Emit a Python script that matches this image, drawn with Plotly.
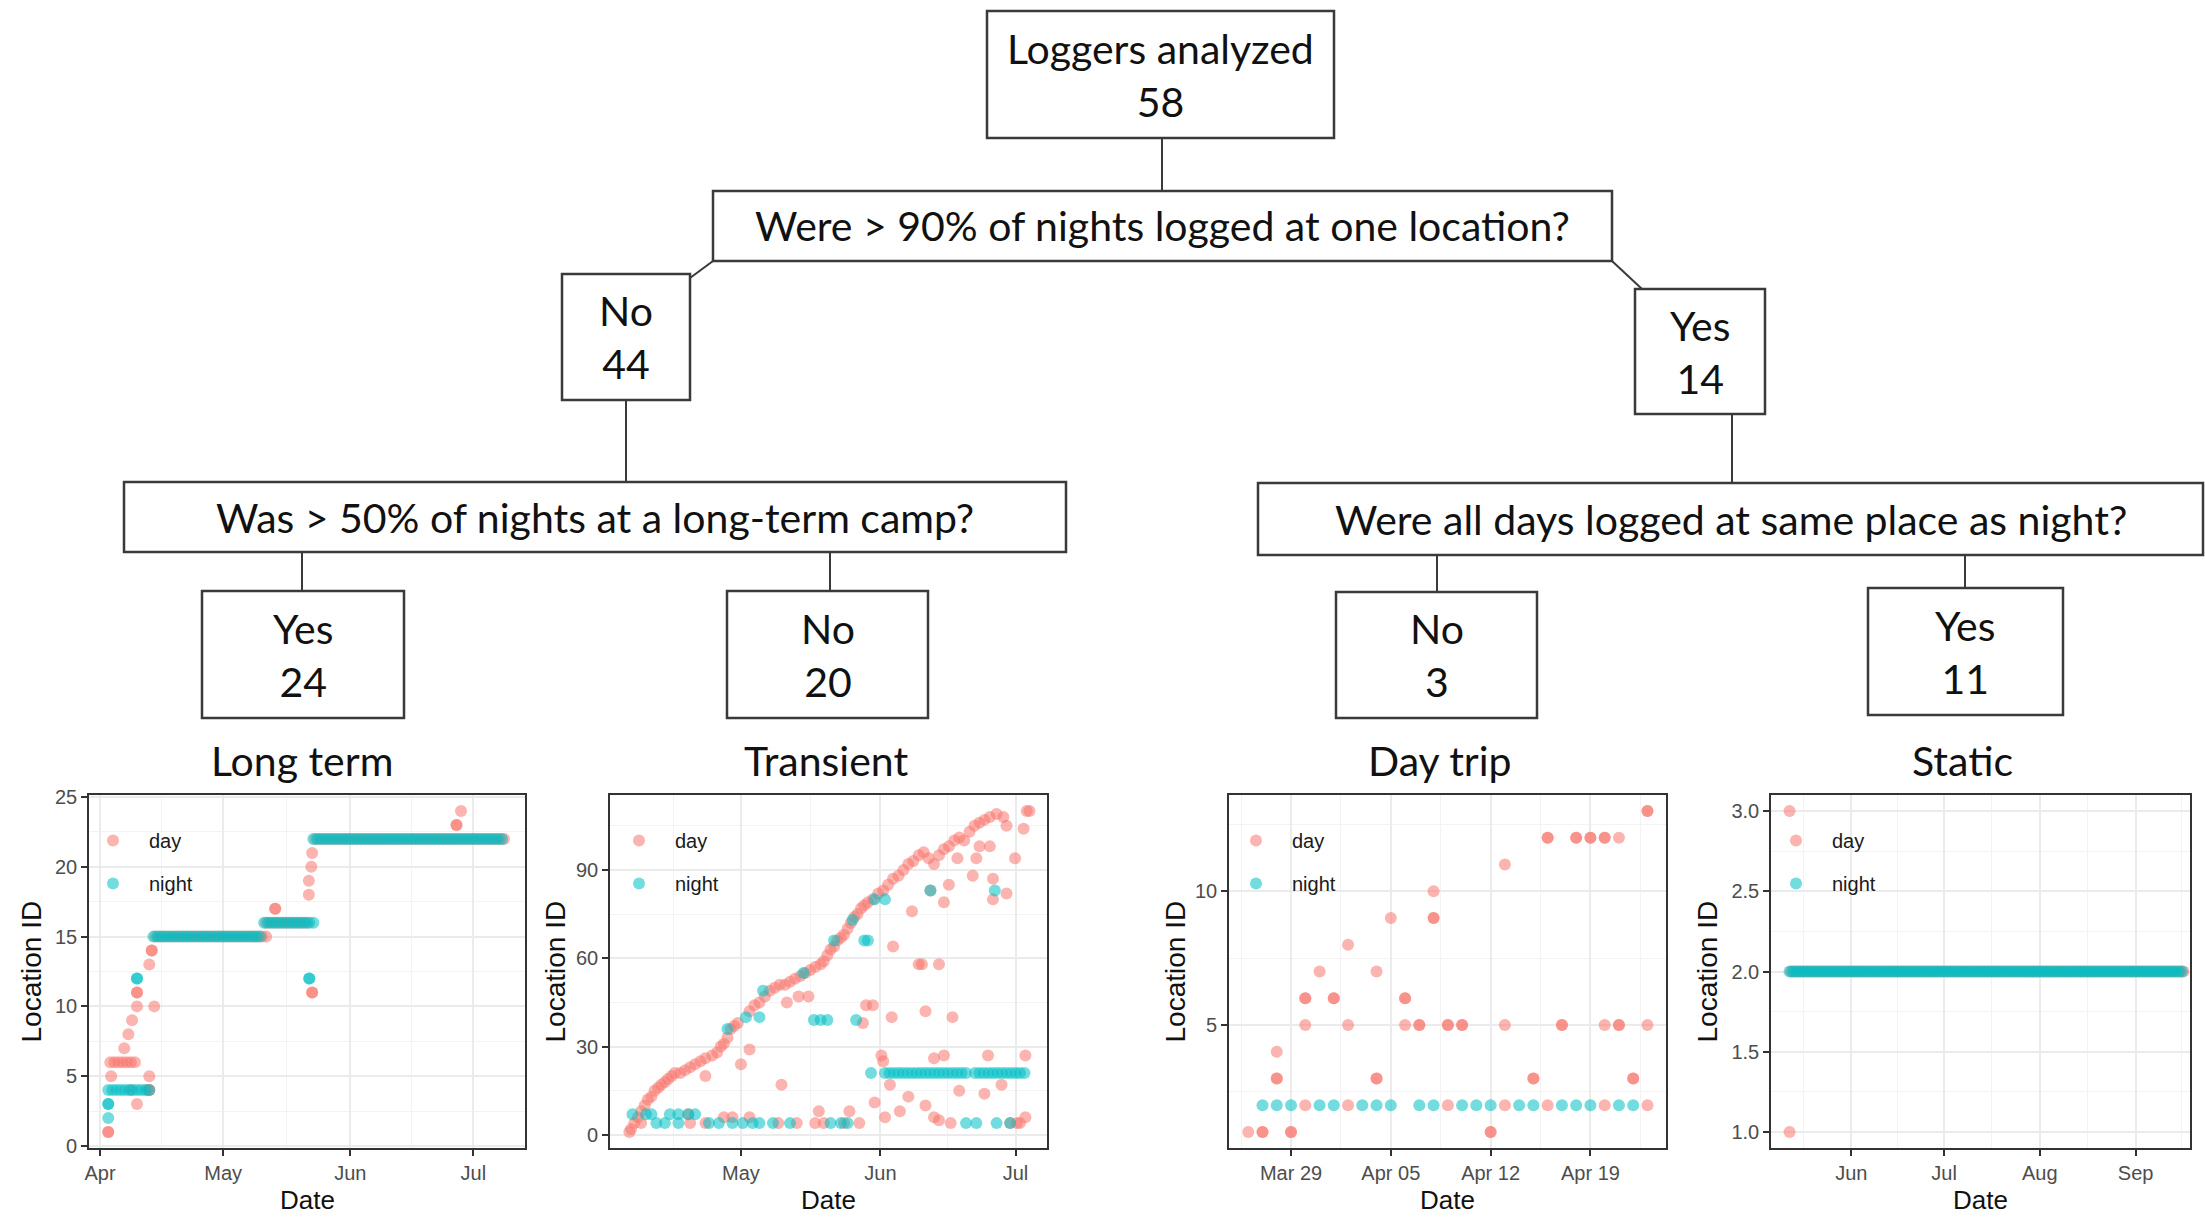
import numpy as np
import pandas as pd
import plotly.graph_objects as go

W, H = 2205, 1217
DAY_C = "#F8766D"
NIGHT_C = "#00BFC4"

# ---------------- data ----------------
# Panel 1: Long term (day offsets from 2019-04-01; day fixes at noon)
lt_base = "2019-04-01"
lt_night_runs = [(2, 12, 4), (13, 39, 15), (40, 52, 16), (52, 98, 22)]
lt_night_d = [2, 2, 2, 9, 9, 51, 51]
lt_night_v = [3, 3, 2, 12, 12, 12, 12]
lt_day_runs = [(2, 8, 6), (13, 40, 15), (40, 50, 16), (52, 98, 22)]
lt_day_d = [2, 2, 2.7, 5.9, 6.9, 7.8, 9, 9, 9, 9, 7.5, 12, 12, 12.6, 12.6, 13.2, 12, 12, 11.5,
            42.7, 42.7, 50.9, 50.9, 51.5, 51.7, 51.7, 51.7, 86.9, 86.9, 88]
lt_day_v = [1, 1, 5, 7, 8, 9, 10, 11, 11, 3, 4, 5, 13, 14, 14, 10, 4, 4, 4,
            17, 17, 18, 19, 20, 21, 11, 11, 23, 23, 24]

# Panel 2: Transient (day offsets from 2019-04-01)
tr_base = "2019-04-01"
tr_day_d = [5.2, 5.6, 6.3, 7.1, 7.8, 8.6, 9.3, 10.1, 10.8, 11.6, 12.3, 13.1, 13.8, 14.6, 15.3, 16.5,
            17.6, 18.7, 19.8, 21.0, 22.1, 23.6, 24.7, 25.5, 26.2, 27.0, 27.7, 28.5, 29.3, 31.9, 33.0,
            34.1, 35.3, 36.4, 37.5, 38.6, 39.8, 40.9, 42.0, 43.2, 44.3, 45.4, 46.5, 47.7, 48.4, 49.2,
            49.9, 50.7, 51.4, 52.2, 52.9, 53.7, 54.4, 55.2, 55.9, 56.7, 57.4, 58.2, 59.3, 60.5, 61.6,
            62.7, 63.8, 65.0, 66.1, 67.2, 68.3, 69.5, 70.6, 71.7, 72.9, 74.0, 75.1, 76.2, 77.4, 78.5,
            79.6, 80.8, 81.9, 83.0, 84.1, 85.3, 86.8, 88.3, 89.0, 93.5, 94.1,
            31.9, 30.0, 22.1, 40.2, 42.8, 45.0, 39.0, 47.3, 54.1, 57.1, 57.8, 59.3, 61.2, 61.6, 63.1,
            63.5, 63.8, 59.7, 62.0, 65.3, 67.2, 68.0, 69.5, 70.2, 71.0, 71.0, 72.1, 72.9, 75.1, 74.0,
            72.9, 74.0, 75.1, 76.2, 77.0, 78.1, 76.6, 78.5, 81.5, 82.3, 84.1, 83.0, 84.9, 85.3, 86.0,
            86.0, 87.9, 89.0, 90.9, 92.8, 93.2, 93.2, 91.3, 89.8, 92.0,
            7.8, 18.7, 22.1, 38.3, 42.4, 46.5, 48.4, 52.9, 56.3, 26.2, 28.1, 31.9, 18.3]
tr_day_v = [1, 2, 4, 6, 8, 10, 12, 13, 15, 16, 17, 18, 19, 20, 21, 21,
            22, 23, 24, 25, 26, 27, 28, 30, 31, 33, 36, 37, 38, 42, 44,
            45, 47, 49, 50, 51, 51, 52, 53, 54, 55, 56, 57, 58, 59, 61,
            63, 64, 66, 67, 68, 70, 72, 74, 75, 77, 78, 79, 80, 82, 83,
            85, 87, 88, 90, 92, 93, 95, 96, 94, 92, 95, 97, 98, 100, 101,
            100, 103, 105, 106, 107, 108, 109, 108, 105, 110, 110,
            29, 24, 20, 45, 47, 47, 17, 8, 8, 38, 44, 44, 27, 25, 17,
            40, 64, 11, 6, 8, 13, 76, 58, 58, 42, 10, 83, 26, 27, 58,
            6, 5, 79, 85, 40, 94, 4, 15, 88, 94, 14, 98, 27, 98, 87,
            80, 17, 82, 94, 104, 27, 6, 4, 4, 4,
            4, 4, 4, 4, 4, 4, 4, 4, 4, 6, 6, 6, 7]
tr_night_runs = [(62, 80, 21), (82, 93, 21)]
tr_night_d = [5.9, 8.9, 10.1, 14.2, 16.1, 18.3, 19.8,
              11.2, 13.1, 16.1, 22.9, 25.1, 28.1, 30.4, 32.6, 34.1, 37.1, 40.9, 49.9, 52.2, 53.7,
              27.0, 31.1, 34.1, 34.9, 43.9, 46.2, 47.7, 49.2, 55.6, 50.7, 54.8, 57.4, 58.2,
              59.7, 62.0, 58.9, 72.1, 86.4, 80.0, 82.3, 86.8, 89.8]
tr_night_v = [7, 7, 7, 7, 7, 7, 7,
              4, 4, 4, 4, 4, 4, 4, 4, 4, 4, 4, 4, 4, 4,
              36, 40, 40, 49, 55, 39, 39, 39, 39, 66, 73, 66, 66,
              80, 80, 21, 83, 83, 4, 4, 4, 4]

# Panel 3: Day trip (day offsets from 2019-03-25)
dt_base = "2019-03-25"
dt_night_d = [2, 3, 4, 6, 7, 9, 10, 11, 13, 14, 16, 17, 18, 20, 21, 23, 24, 25, 27, 28]
dt_night_v = [2] * 20
dt_day_d = [1, 2, 2, 4, 4, 3, 3, 3, 5, 5, 5, 5, 6, 7, 7, 8, 8, 8, 10, 10, 10, 11, 12, 12, 12, 13, 13,
            14, 14, 14, 15, 15, 15, 16, 16, 18, 18, 19, 19, 19, 21, 21, 22, 22, 22, 23, 23, 24, 24,
            25, 25, 26, 26, 26, 26, 27, 27, 27, 28, 28, 29, 29, 29, 29]
dt_day_v = [1, 1, 1, 1, 1, 4, 3, 3, 6, 6, 5, 2, 7, 6, 6, 8, 5, 2, 7, 3, 3, 9, 6, 6, 5, 5, 5,
            10, 9, 9, 5, 5, 2, 5, 5, 1, 1, 11, 5, 2, 3, 3, 12, 12, 2, 5, 5, 12, 12,
            12, 12, 12, 12, 5, 2, 12, 5, 5, 3, 3, 13, 13, 5, 2]

# Panel 4: Static (day offsets from 2019-05-12)
st_base = "2019-05-12"
st_night_runs = [(0, 127, 2)]
st_day_runs = [(0, 127, 2)]
st_day_d = [0, 0]
st_day_v = [3, 1]

# tick labels
lt_ticks = ["2019-04-01", "2019-05-01", "2019-06-01", "2019-07-01"]
lt_ticktext = ["Apr", "May", "Jun", "Jul"]
tr_ticks = ["2019-05-01", "2019-06-01", "2019-07-01"]
tr_ticktext = ["May", "Jun", "Jul"]
dt_ticks = ["2019-03-29", "2019-04-05", "2019-04-12", "2019-04-19"]
dt_ticktext = ["Mar 29", "Apr 05", "Apr 12", "Apr 19"]
st_ticks = ["2019-06-01", "2019-07-01", "2019-08-01", "2019-09-01"]
st_ticktext = ["Jun", "Jul", "Aug", "Sep"]


def expand(runs, off=0.0):
    d, v = [], []
    for a, b, val in runs:
        for k in range(a, b + 1):
            d.append(k + off)
            v.append(val)
    return d, v


def to_dates(base, offs):
    return pd.Timestamp(base) + pd.to_timedelta(np.asarray(offs, dtype=float), unit="D")


def dstr(base, off):
    return (pd.Timestamp(base) + pd.Timedelta(days=off)).isoformat()


# assemble series
p1n_d, p1n_v = expand(lt_night_runs)
p1n_d += lt_night_d; p1n_v += lt_night_v
p1d_d, p1d_v = expand(lt_day_runs, 0.5)
p1d_d += lt_day_d; p1d_v += lt_day_v

p2n_d, p2n_v = expand(tr_night_runs)
p2n_d += tr_night_d; p2n_v += tr_night_v
p2d_d, p2d_v = list(tr_day_d), list(tr_day_v)

p4n_d, p4n_v = expand(st_night_runs)
p4d_d, p4d_v = expand(st_day_runs, 0.5)
p4d_d += st_day_d; p4d_v += st_day_v

panels = [
    dict(base=lt_base, day=(p1d_d, p1d_v), night=(p1n_d, p1n_v)),
    dict(base=tr_base, day=(p2d_d, p2d_v), night=(p2n_d, p2n_v)),
    dict(base=dt_base, day=(dt_day_d, dt_day_v), night=(dt_night_d, dt_night_v)),
    dict(base=st_base, day=(p4d_d, p4d_v), night=(p4n_d, p4n_v)),
]


def fx(x):
    return x / W


def fy(y):
    return 1 - y / H


fig = go.Figure()

legend_names = ["legend", "legend2", "legend3", "legend4"]
for i, p in enumerate(panels):
    sfx = "" if i == 0 else str(i + 1)
    for name, key, col in [("day", "day", DAY_C), ("night", "night", NIGHT_C)]:
        d, v = p[key]
        fig.add_trace(go.Scatter(
            x=to_dates(p["base"], d), y=v, mode="markers", name=name,
            xaxis="x" + sfx, yaxis="y" + sfx,
            legend=legend_names[i], legendgroup=name + sfx,
            marker=dict(color=col, size=12, opacity=0.55, line=dict(width=0)),
            hoverinfo="skip"))

# ---------------- axes ----------------
plot_x = [(89, 525), (610, 1047), (1229, 1666), (1771, 2190)]
plot_y = (795, 1148)

common = dict(showline=True, mirror=True, linecolor="#333333", linewidth=1.6,
              ticks="outside", ticklen=6, tickwidth=1.5, tickcolor="#333333",
              showgrid=True, gridcolor="#EBEBEB", gridwidth=1.6, zeroline=False, automargin=False,
              tickfont=dict(family="Liberation Sans", size=20, color="#4D4D4D"))
minor_style = dict(showgrid=True, gridcolor="#F3F3F3", gridwidth=0.9, ticks="")

x_specs = [
    dict(range=[dstr(lt_base, -2.7), dstr(lt_base, 103.6)], tickvals=lt_ticks, ticktext=lt_ticktext,
         minor=["2019-04-16", "2019-05-16 12:00", "2019-06-16"]),
    dict(range=[dstr(tr_base, 0.9), dstr(tr_base, 98.0)], tickvals=tr_ticks, ticktext=tr_ticktext,
         minor=["2019-04-16", "2019-05-16 12:00", "2019-06-16"]),
    dict(range=[dstr(dt_base, -0.35), dstr(dt_base, 30.3)], tickvals=dt_ticks, ticktext=dt_ticktext,
         minor=["2019-03-25 12:00", "2019-04-01 12:00", "2019-04-08 12:00", "2019-04-15 12:00",
                "2019-04-22 12:00"]),
    dict(range=[dstr(st_base, -6.0), dstr(st_base, 129.6)], tickvals=st_ticks, ticktext=st_ticktext,
         minor=["2019-05-16 12:00", "2019-06-16", "2019-07-16 12:00", "2019-08-16 12:00", "2019-09-16"]),
]
y_specs = [
    dict(range=[-0.15, 25.15], tickvals=[0, 5, 10, 15, 20, 25], minor=[2.5, 7.5, 12.5, 17.5, 22.5], fmt=""),
    dict(range=[-4.45, 115.45], tickvals=[0, 30, 60, 90], minor=[15, 45, 75, 105], fmt=""),
    dict(range=[0.4, 13.6], tickvals=[5, 10], minor=[2.5, 7.5, 12.5], fmt=""),
    dict(range=[0.9, 3.1], tickvals=[1.0, 1.5, 2.0, 2.5, 3.0], minor=[1.25, 1.75, 2.25, 2.75], fmt=".1f"),
]

layout_axes = {}
for i in range(4):
    sfx = "" if i == 0 else str(i + 1)
    xs, ys = x_specs[i], y_specs[i]
    layout_axes["xaxis" + sfx] = dict(
        common, domain=[fx(plot_x[i][0]), fx(plot_x[i][1])], anchor="y" + sfx, type="date",
        range=xs["range"], tickmode="array", tickvals=xs["tickvals"], ticktext=xs["ticktext"],
        minor=dict(minor_style, tickmode="array", tickvals=xs["minor"]))
    layout_axes["yaxis" + sfx] = dict(
        common, domain=[fy(plot_y[1]), fy(plot_y[0])], anchor="x" + sfx,
        range=ys["range"], tickmode="array", tickvals=ys["tickvals"], tickformat=ys["fmt"],
        minor=dict(minor_style, tickmode="array", tickvals=ys["minor"]))

# legends inside panels
legend_pos = [(77, 821), (603, 821), (1220, 821), (1760, 821)]
legends = {}
for i, nm in enumerate(legend_names):
    legends[nm] = dict(
        x=fx(legend_pos[i][0]), y=fy(legend_pos[i][1]), xanchor="left", yanchor="top",
        bgcolor="rgba(0,0,0,0)", borderwidth=0, tracegroupgap=14, itemwidth=62,
        font=dict(family="Liberation Sans", size=20, color="#1A1A1A"))

# ---------------- flowchart ----------------
FONT = "Lato"
BOX_FS = 41
boxes = [
    ((987, 11, 1334, 138), "Loggers analyzed<br>58"),
    ((713, 191, 1612, 261), "Were > 90% of nights logged at one location?"),
    ((562, 274, 690, 400), "No<br>44"),
    ((1635, 289, 1765, 414), "Yes<br>14"),
    ((124, 482, 1066, 552), "Was > 50% of nights at a long-term camp?"),
    ((1258, 483, 2203, 555), "Were all days logged at same place as night?"),
    ((202, 591, 404, 718), "Yes<br>24"),
    ((727, 591, 928, 718), "No<br>20"),
    ((1336, 592, 1537, 718), "No<br>3"),
    ((1868, 588, 2063, 715), "Yes<br>11"),
]
links = [
    (1162, 138, 1162, 191), (713, 261, 690, 278), (1612, 261, 1642, 289),
    (626, 400, 626, 482), (1732, 414, 1732, 483),
    (302, 552, 302, 591), (830, 552, 830, 591),
    (1437, 555, 1437, 592), (1965, 555, 1965, 588),
]
titles = [((302, 760), "Long term"), ((826, 760), "Transient"),
          ((1440, 760), "Day trip"), ((1962, 760), "Static")]

shapes, annotations = [], []
for (x0, y0, x1, y1) in links:
    shapes.append(dict(type="line", xref="paper", yref="paper", x0=fx(x0), y0=fy(y0), x1=fx(x1), y1=fy(y1),
                       line=dict(color="#3A3A3A", width=2)))
for (x0, y0, x1, y1), txt in boxes:
    shapes.append(dict(type="rect", xref="paper", yref="paper", x0=fx(x0), y0=fy(y1), x1=fx(x1), y1=fy(y0),
                       line=dict(color="#3A3A3A", width=2.5), fillcolor="white"))
    annotations.append(dict(xref="paper", yref="paper", x=fx((x0 + x1) / 2), y=fy((y0 + y1) / 2),
                            text=txt, showarrow=False, xanchor="center", yanchor="middle",
                            font=dict(family=FONT, size=BOX_FS, color="#111111")))
for (cx, cy), txt in titles:
    annotations.append(dict(xref="paper", yref="paper", x=fx(cx), y=fy(cy), text=txt, showarrow=False,
                            xanchor="center", yanchor="middle",
                            font=dict(family=FONT, size=BOX_FS, color="#111111")))

# axis titles
ytitle_x = [31, 555, 1175, 1707]
for i in range(4):
    annotations.append(dict(xref="paper", yref="paper", x=fx(ytitle_x[i]), y=fy((plot_y[0] + plot_y[1]) / 2),
                            text="Location ID", textangle=-90, showarrow=False,
                            xanchor="center", yanchor="middle",
                            font=dict(family="Liberation Sans", size=28, color="#111111")))
    annotations.append(dict(xref="paper", yref="paper", x=fx((plot_x[i][0] + plot_x[i][1]) / 2), y=fy(1200),
                            text="Date", showarrow=False, xanchor="center", yanchor="middle",
                            font=dict(family="Liberation Sans", size=26, color="#111111")))

fig.update_layout(
    width=W, height=H, margin=dict(l=0, r=0, t=0, b=0, pad=0, autoexpand=False),
    paper_bgcolor="white", plot_bgcolor="white",
    showlegend=True, shapes=shapes, annotations=annotations,
    **layout_axes, **legends)

fig.write_html("out.html", config={"displayModeBar": False},
               post_script="document.body.style.margin='0px';")
